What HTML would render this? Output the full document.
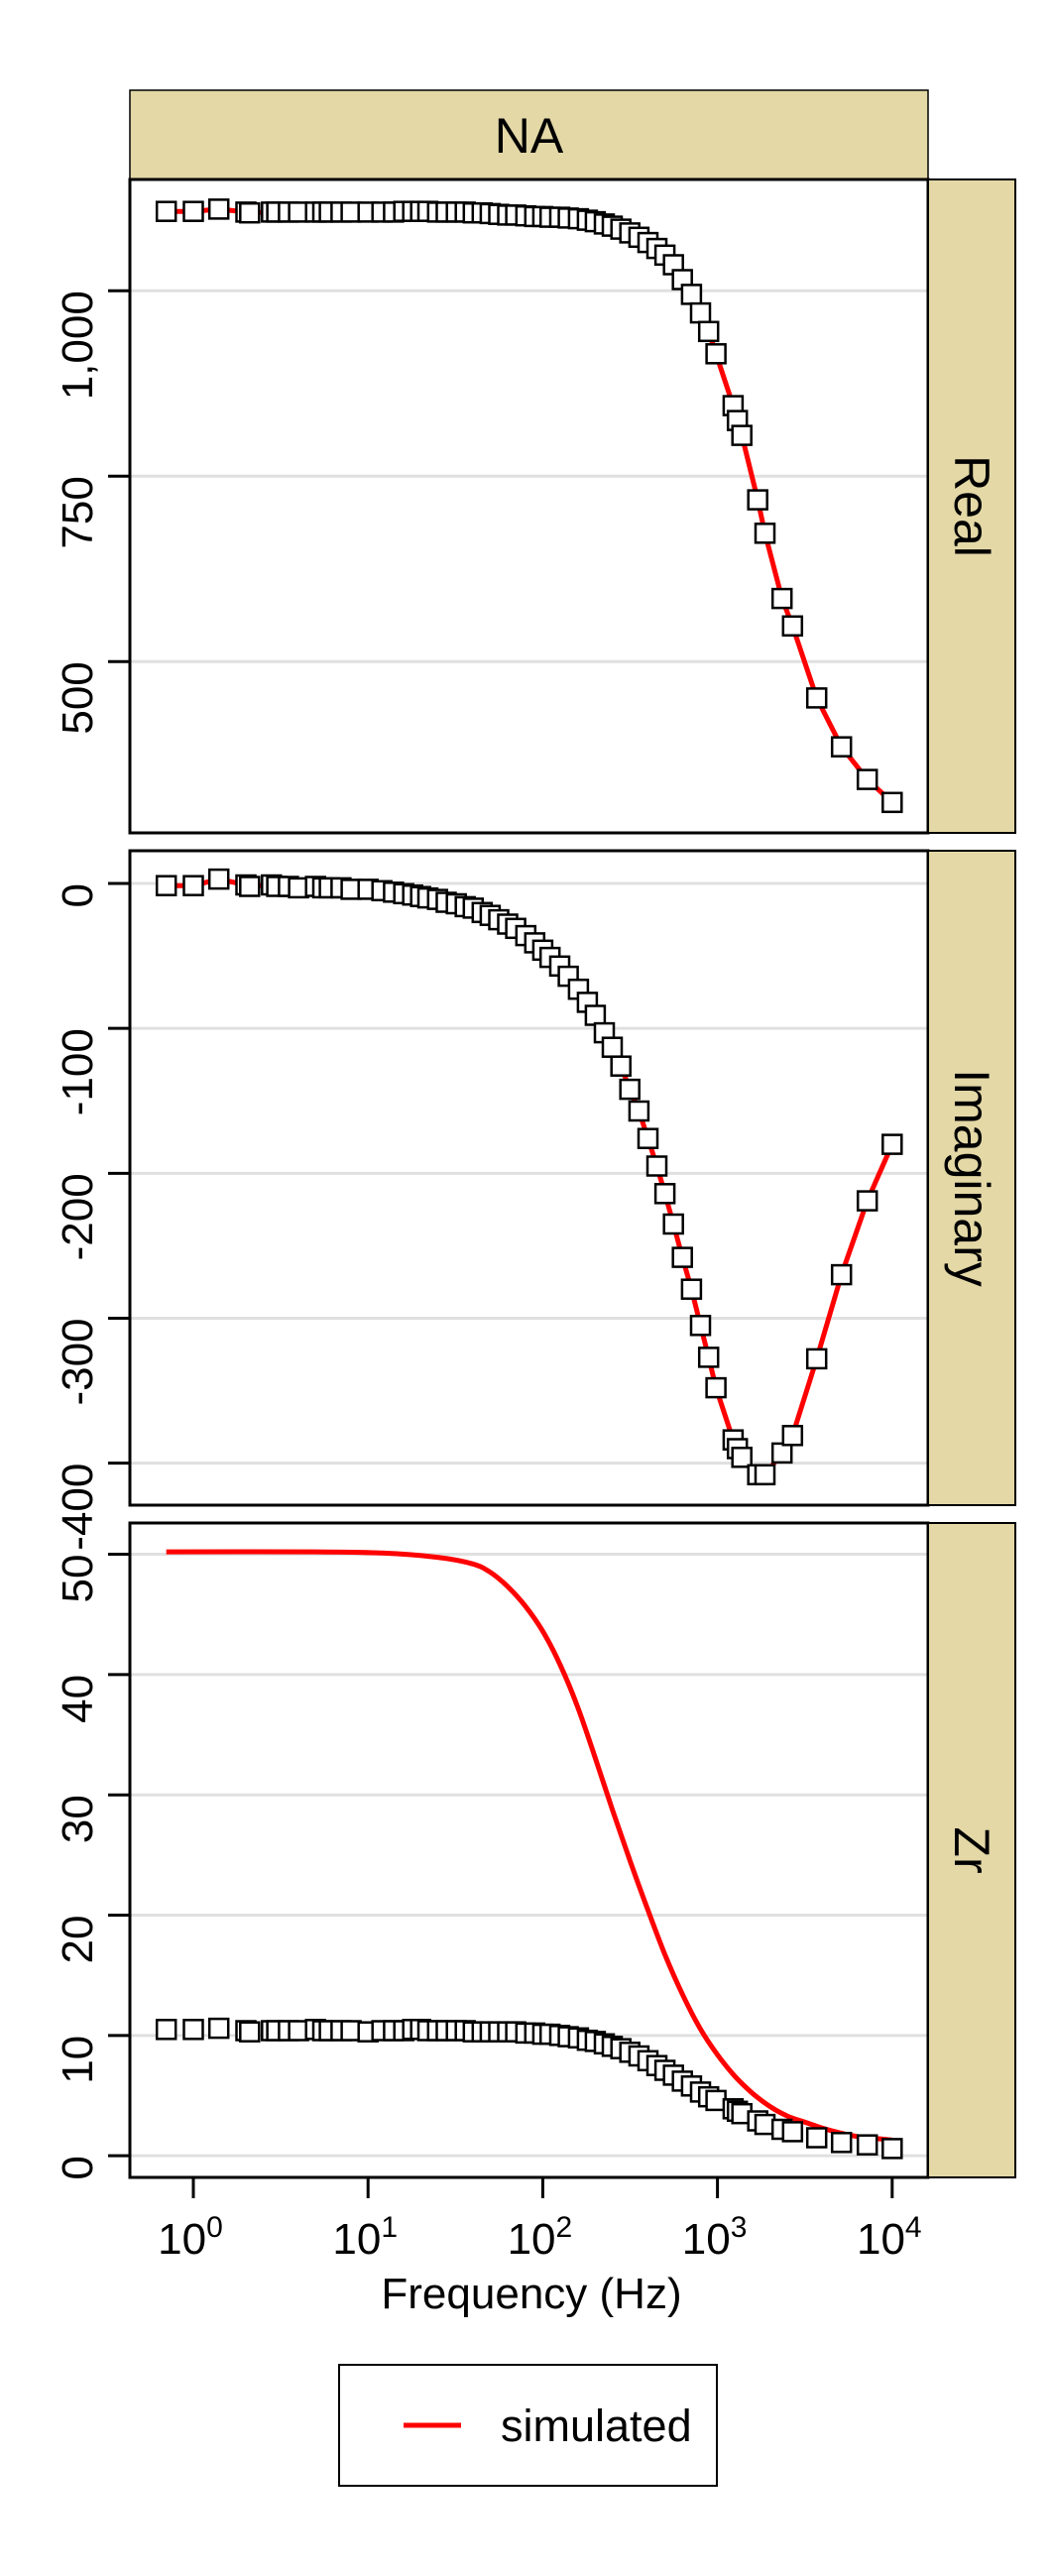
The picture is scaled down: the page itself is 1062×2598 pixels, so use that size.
<!DOCTYPE html>
<html><head><meta charset="utf-8">
<style>
html,body{margin:0;padding:0;background:#fff;}
svg{display:block;font-family:"Liberation Sans",Arial,sans-serif;}
</style></head>
<body>
<svg id="chart" xmlns="http://www.w3.org/2000/svg" width="1062" height="2598" viewBox="0 0 1062 2598">
<rect x="0" y="0" width="1062" height="2598" fill="#fff"/>
</svg>
<script>
const freq = [0.7,1,1.4,2,2.1,2.8,3,3.5,4,5,
5.5,6,7,8,10,12,14,16,18,20,
22,25,28,32,36,40,45,50,56,63,
70,80,90,100,110,125,140,160,180,200,
225,250,280,315,355,400,450,500,560,630,
710,800,890,980,1230,1300,1380,1700,1870,2340,
2690,3700,5130,7200,10000];
const realVals = [1107,1107,1110,1106,1105,1106,1106,1106,1106,1106,
1106,1106,1106,1106,1106,1106,1106,1107,1107,1107,
1107,1106,1106,1106,1106,1105,1105,1104,1103,1102,
1102,1101,1100,1100,1099,1099,1098,1097,1095,1093,
1090,1087,1083,1078,1072,1065,1057,1048,1035,1015,
995,970,945,915,845,825,805,718,673,585,
548,451,385,341,310];
const imagVals = [-1.5,-1.5,3,-1,-2,-1,-2,-2,-3,-2,
-3,-3,-3,-4,-4,-5,-6,-7,-8,-9,
-10,-11,-13,-14,-16,-17,-20,-22,-25,-28,
-31,-36,-41,-46,-51,-57,-64,-73,-82,-91,
-103,-113,-126,-142,-157,-176,-195,-214,-235,-258,
-280,-305,-327,-348,-384,-390,-396,-408,-408,-393,
-381,-328,-270,-219,-180];
const zrVals = [10.5,10.5,10.6,10.4,10.3,10.4,10.4,10.4,10.4,10.5,
10.4,10.4,10.4,10.4,10.3,10.4,10.4,10.4,10.5,10.5,
10.4,10.4,10.4,10.4,10.4,10.3,10.3,10.3,10.3,10.3,
10.3,10.2,10.2,10.1,10.1,10.0,9.9,9.8,9.6,9.5,
9.3,9.1,8.9,8.6,8.3,7.9,7.5,7.1,6.7,6.2,
5.8,5.3,4.9,4.6,3.9,3.7,3.5,2.9,2.6,2.2,
2.0,1.5,1.1,0.9,0.6];
const simFreq = [0.7,5,12,25,39.8,50.1,63.1,79.4,100,125.9,158.5,199.5,251.2,316.2,398.1,501.2,631,794.3,1000,1259,1585,1995,2512,3162,3981,5012,6310,7943,10000];
const simZr = [50.2,50.2,50.1,49.75,49.2,48.5,47.3,45.7,43.6,40.8,37.3,33.1,28.7,24.5,20.5,16.7,13.4,10.6,8.4,6.6,5.2,4.1,3.3,2.8,2.3,1.9,1.6,1.45,1.3];
const realTicks = [500,750,1000];
const realTickLabels = ["500","750","1,000"];
const imagTicks = [0,-100,-200,-300,-400];
const imagTickLabels = ["0","-100","-200","-300","-400"];
const zrTicks = [0,10,20,30,40,50];
const zrTickLabels = ["0","10","20","30","40","50"];
const xTickExps = [0,1,2,3,4];

const NS = "http://www.w3.org/2000/svg";
const svg = document.getElementById("chart");
function mk(tag, attrs, parent){
  const e = document.createElementNS(NS, tag);
  for (const k in attrs) e.setAttribute(k, attrs[k]);
  (parent||svg).appendChild(e);
  return e;
}
const PL = 131, PR = 936, SR = 1024;
const STRIP = "#e3d8a6";
function xs(f){ return 195 + 176.2*Math.log10(f); }

function smoothPath(P){
  let d = "M" + P[0][0].toFixed(1) + "," + P[0][1].toFixed(1);
  for (let i=0;i<P.length-1;i++){
    const p0 = P[Math.max(0,i-1)], p1 = P[i], p2 = P[i+1], p3 = P[Math.min(P.length-1,i+2)];
    const c1x = p1[0] + (p2[0]-p0[0])/6, c1y = p1[1] + (p2[1]-p0[1])/6;
    const c2x = p2[0] - (p3[0]-p1[0])/6, c2y = p2[1] - (p3[1]-p1[1])/6;
    d += " C" + c1x.toFixed(1)+","+c1y.toFixed(1)+" "+c2x.toFixed(1)+","+c2y.toFixed(1)+" "+p2[0].toFixed(1)+","+p2[1].toFixed(1);
  }
  return d;
}

const panels = [
  {name:"real", label:"Real", top:181, bot:840, min:269, max:1150, vals:realVals, ticks:realTicks, tl:realTickLabels, simX:freq, simY:realVals, smooth:false},
  {name:"imaginary", label:"Imaginary", top:858, bot:1518, min:-429, max:22.6, vals:imagVals, ticks:imagTicks, tl:imagTickLabels, simX:freq, simY:imagVals, smooth:false},
  {name:"zr", label:"Zr", top:1536, bot:2196, min:-1.8, max:52.6, vals:zrVals, ticks:zrTicks, tl:zrTickLabels, simX:simFreq, simY:simZr, smooth:true}
];

let ts = mk("rect",{x:PL,y:91,width:PR-PL,height:90,fill:STRIP,stroke:"#000","stroke-width":1.5});


let tt = mk("text",{x:(PL+PR)/2,y:154,"font-size":50,"text-anchor":"middle",fill:"#000"});
tt.textContent = "NA";



panels.forEach(p=>{
  const ys = v => p.bot - (v - p.min)/(p.max - p.min)*(p.bot - p.top);
  const g = mk("g",{});
  
  
  mk("rect",{x:PL,y:p.top,width:PR-PL,height:p.bot-p.top,fill:"#fff"},g);
  p.ticks.forEach((t,i)=>{
    const y = ys(t);
    const gl = mk("line",{x1:PL,x2:PR,y1:y,y2:y,stroke:"#e0e0e0","stroke-width":3},g);
    
    
    mk("line",{x1:109,x2:PL,y1:y,y2:y,stroke:"#000","stroke-width":3},g);
    const lab = mk("text",{x:0,y:0,"font-size":44,"text-anchor":"end",fill:"#000",transform:"translate(93,"+y+") rotate(-90)"},g);
    lab.textContent = p.tl[i];
    
    
  });
  const cid = "clip-"+p.name;
  const cp = mk("clipPath",{id:cid},g);
  mk("rect",{x:PL,y:p.top,width:PR-PL,height:p.bot-p.top},cp);
  const P = p.simX.map((f,i)=>[xs(f), ys(p.simY[i])]);
  let ln;
  if (p.smooth){
    ln = mk("path",{d:smoothPath(P),fill:"none",stroke:"#ff0000","stroke-width":5,"stroke-linejoin":"round","clip-path":"url(#"+cid+")"},g);
  } else {
    ln = mk("polyline",{points:P.map(q=>q[0].toFixed(1)+","+q[1].toFixed(1)).join(" "),fill:"none",stroke:"#ff0000","stroke-width":5,"stroke-linejoin":"round","clip-path":"url(#"+cid+")"},g);
  }
  
  
  freq.forEach((f,i)=>{
    const x = xs(f), y = ys(p.vals[i]);
    const r = mk("rect",{x:(x-9.5).toFixed(1),y:(y-9.5).toFixed(1),width:19,height:19,fill:"#fff",stroke:"#000","stroke-width":2.5},g);
    
    
  });
  mk("rect",{x:PL,y:p.top,width:PR-PL,height:p.bot-p.top,fill:"none",stroke:"#000","stroke-width":3},g);
  const rs = mk("rect",{x:PR,y:p.top,width:SR-PR,height:p.bot-p.top,fill:STRIP,stroke:"#000","stroke-width":2},g);
  
  
  const cy = (p.top+p.bot)/2;
  const st = mk("text",{x:0,y:0,"font-size":50,"text-anchor":"middle",fill:"#000",transform:"translate("+(PR+(SR-PR)/2-17)+","+cy+") rotate(90)"},g);
  st.textContent = p.label;
  
  
});

xTickExps.forEach(e=>{
  const x = xs(Math.pow(10,e));
  mk("line",{x1:x,x2:x,y1:2196,y2:2217,stroke:"#000","stroke-width":3});
  const t = mk("text",{x:x-3,y:2273,"font-size":44,"text-anchor":"middle",fill:"#000"});
  
  
  const a = document.createElementNS(NS,"tspan"); a.textContent = "10"; t.appendChild(a);
  const b = document.createElementNS(NS,"tspan"); b.setAttribute("dy","-17"); b.setAttribute("font-size","30"); b.textContent = String(e); t.appendChild(b);
});
const xt = mk("text",{x:536,y:2328,"font-size":44,"text-anchor":"middle",fill:"#000"});
xt.textContent = "Frequency (Hz)";



const lg = mk("g",{});


mk("rect",{x:342,y:2385,width:381,height:122,fill:"#fff",stroke:"#000","stroke-width":2},lg);
const ll = mk("line",{x1:407,x2:465,y1:2446,y2:2446,stroke:"#ff0000","stroke-width":5},lg);


const lt = mk("text",{x:505,y:2462,"font-size":45,fill:"#000"},lg);
lt.textContent = "simulated";


</script>
</body></html>
